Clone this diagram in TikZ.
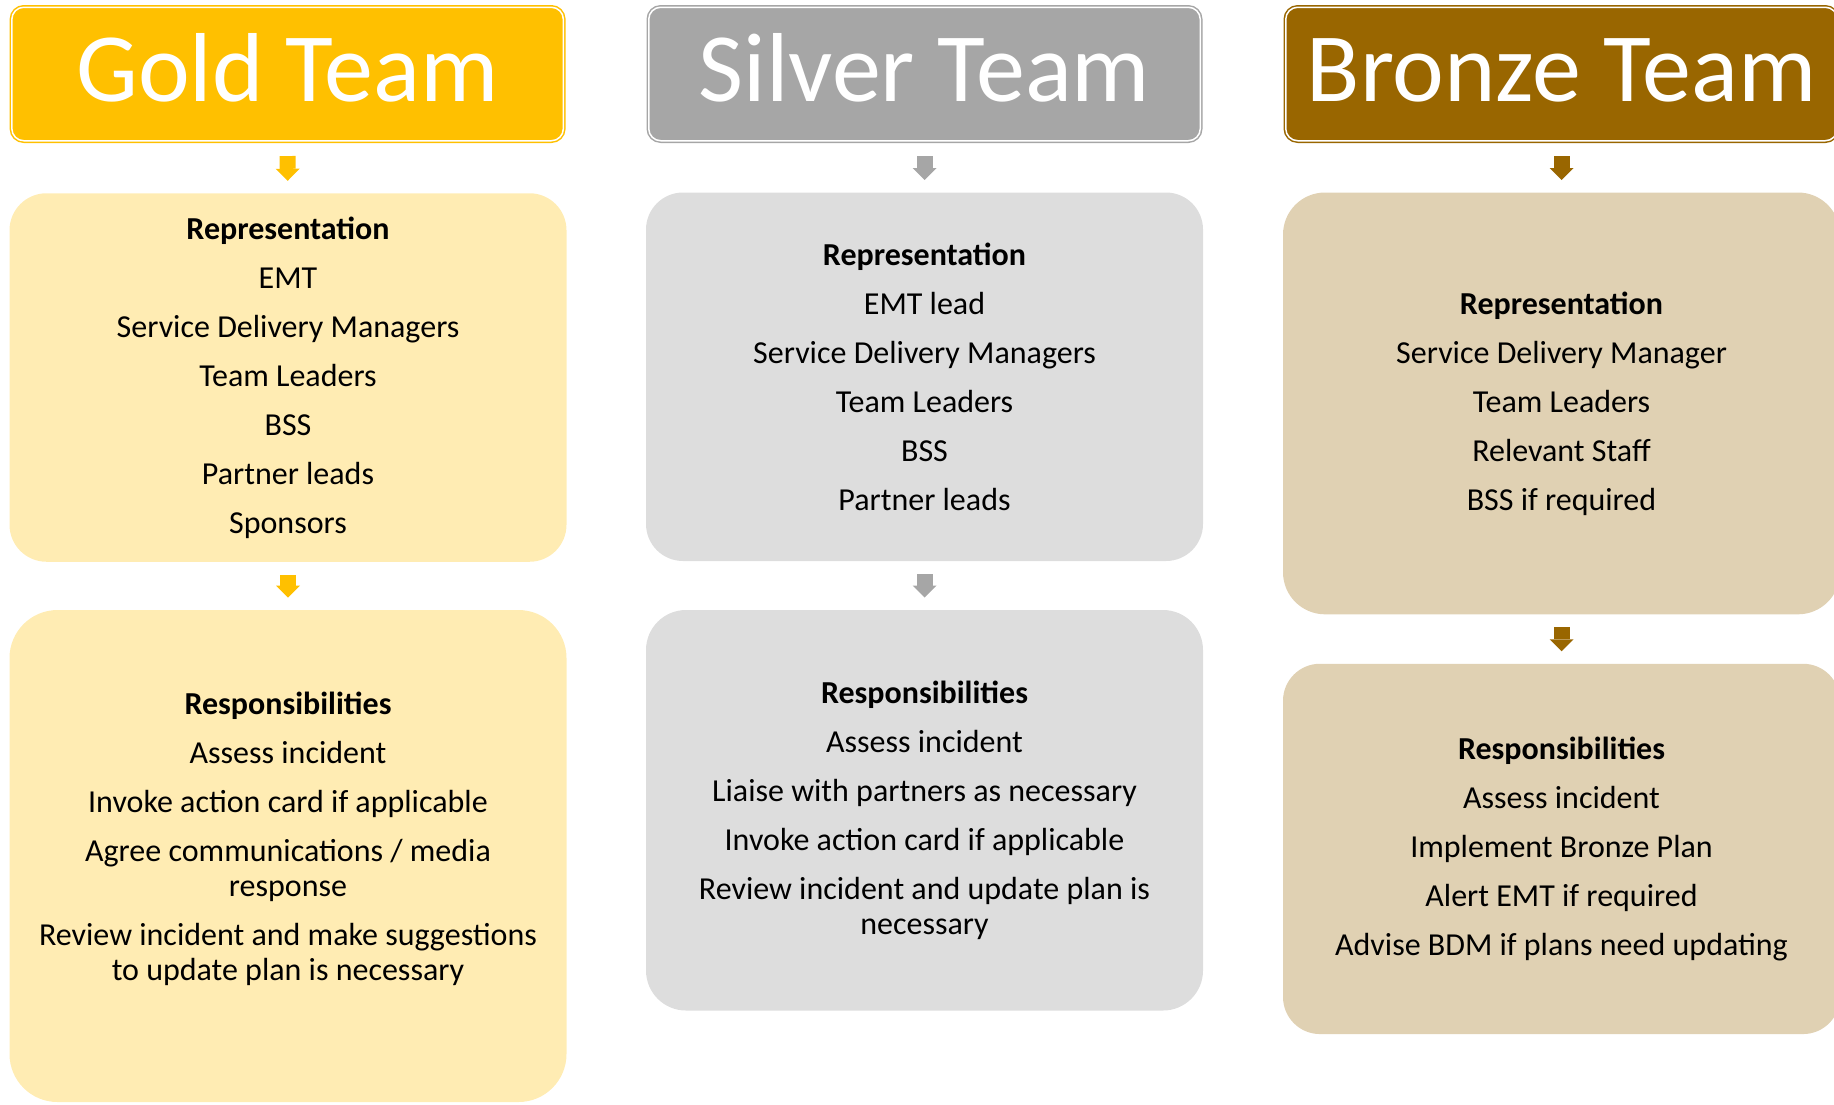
\documentclass[tikz,border=0pt]{standalone}
\usepackage{fontspec}
\setmainfont{Carlito}
\usetikzlibrary{arrows.meta}
\definecolor{gold}{HTML}{FFC000}
\definecolor{goldlight}{HTML}{FFECB3}
\definecolor{silver}{HTML}{A6A6A6}
\definecolor{silverlight}{HTML}{DDDDDD}
\definecolor{bronze}{HTML}{996600}
\definecolor{bronzelight}{HTML}{E0D1B3}

\begin{document}
\begin{tikzpicture}[x=0.5pt, y=-0.5pt,
    teamhead/.style={fill=#1, draw=#1, line width=0.75pt, double=white, double distance=0.75pt,
        rounded corners=6pt, minimum width=275.75pt, minimum height=66.75pt,
        inner sep=0pt, outer sep=1.125pt, text=white,
        font=\fontsize{49}{51}\selectfont, text height=32.5pt, text depth=5.5pt},
    boxtext/.style={align=center, inner sep=0pt, font=\fontsize{16}{17.5}\selectfont},
    infobox/.style={boxtext, fill=#1, outer sep=0pt, minimum width=278.5pt},
    flow/.style={draw=#1, line width=8pt, shorten <=6.5pt, shorten >=6.25pt,
        -{Triangle[width=12pt, length=6pt, line width=0pt]}}
]
\clip (0,0) rectangle (1834,1104);

% Gold team
\begin{scope}
    \node[teamhead=gold] (goldhead) at (287.6,74) {Gold Team};
    \node[infobox=goldlight, minimum height=184.25pt, rounded corners=18.5pt] (goldrep) at (288,377.5)
        {\textbf{Representation}\\[7pt] EMT\\[7pt] Service Delivery Managers\\[7pt] Team Leaders\\[7pt]
         BSS\\[7pt] Partner leads\\[7pt] Sponsors};
    \node[infobox=goldlight, minimum height=246pt, rounded corners=24pt] (goldresp) at (288,856) {};
    \node[boxtext] (goldresptext) at ([yshift=8.5pt]goldresp.center)
        {\textbf{Responsibilities}\\[7pt] Assess incident\\[7pt] Invoke action card if applicable\\[7pt]
         Agree communications / media\\ response\\[7pt]
         Review incident and make suggestions\\ to update plan is necessary};

    \draw[flow=gold] (goldhead) -- (goldrep);
    \draw[flow=gold] (goldrep) -- (goldresp);
\end{scope}

% Silver team
\begin{scope}
    \node[teamhead=silver] (silverhead) at (924.5,74) {Silver Team};
    \node[infobox=silverlight, minimum height=184.25pt, rounded corners=18.5pt] (silverrep) at (924.5,376.75)
        {\textbf{Representation}\\[7pt] EMT lead\\[7pt] Service Delivery Managers\\[7pt] Team Leaders\\[7pt]
         BSS\\[7pt] Partner leads};
    \node[infobox=silverlight, minimum height=200.25pt, rounded corners=20pt] (silverresp) at (924.5,810.25)
        {\textbf{Responsibilities}\\[7pt] Assess incident\\[7pt] Liaise with partners as necessary\\[7pt]
         Invoke action card if applicable\\[7pt] Review incident and update plan is\\ necessary};

    \draw[flow=silver] (silverhead) -- (silverrep);
    \draw[flow=silver] (silverrep) -- (silverresp);
\end{scope}

% Bronze team (runs off the right edge)
\begin{scope}
    \node[teamhead=bronze] (bronzehead) at (1561.5,74) {Bronze Team};
    \node[infobox=bronzelight, minimum height=210.9pt, rounded corners=21pt] (bronzerep) at (1561.5,403.4)
        {\textbf{Representation}\\[7pt] Service Delivery Manager\\[7pt] Team Leaders\\[7pt]
         Relevant Staff\\[7pt] BSS if required};
    \node[infobox=bronzelight, minimum height=185.15pt, rounded corners=18.5pt] (bronzeresp) at (1561.5,848.9)
        {\textbf{Responsibilities}\\[7pt] Assess incident\\[7pt] Implement Bronze Plan\\[7pt]
         Alert EMT if required\\[7pt] Advise BDM if plans need updating};

    \draw[flow=bronze] (bronzehead) -- (bronzerep);
    \draw[flow=bronze] (bronzerep) -- (bronzeresp);
\end{scope}

\end{tikzpicture}
\end{document}
